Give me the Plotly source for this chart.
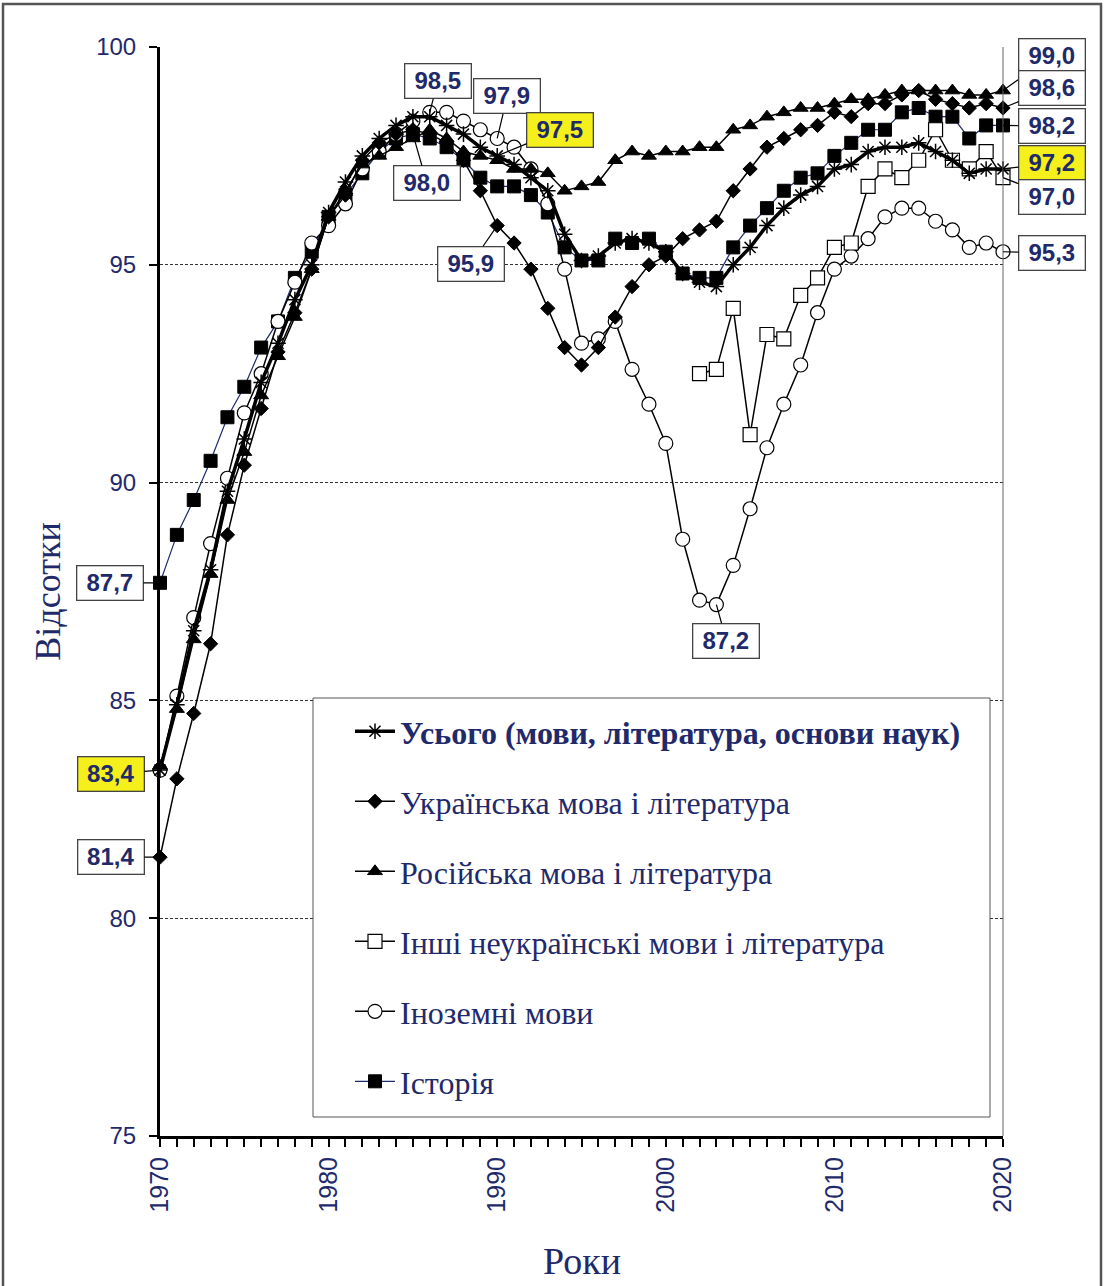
import plotly.graph_objects as go

years = list(range(1970, 2021))

total = [83.4, 84.9, 86.6, 88.0, 89.8, 91.0, 92.3, 93.2, 94.2, 95.0,
         96.2, 96.9, 97.5, 97.9, 98.2, 98.4, 98.4, 98.2, 98.0, 97.7,
         97.5, 97.3, 97.0, 96.7, 95.7, 95.1, 95.2, 95.5, 95.6, 95.5,
         95.3, 94.8, 94.6, 94.5, 95.0, 95.4, 95.9, 96.3, 96.6, 96.8,
         97.2, 97.3, 97.6, 97.7, 97.7, 97.8, 97.6, 97.4, 97.1, 97.2, 97.2]

ukrainian = [81.4, 83.2, 84.7, 86.3, 88.8, 90.4, 91.7, 93.0, 93.9, 94.9,
             96.1, 96.6, 97.4, 97.8, 98.0, 98.1, 98.0, 97.8, 97.4, 96.7,
             95.9, 95.5, 94.9, 94.0, 93.1, 92.7, 93.1, 93.8, 94.5, 95.0,
             95.2, 95.6, 95.8, 96.0, 96.7, 97.2, 97.7, 97.9, 98.1, 98.2,
             98.5, 98.4, 98.7, 98.7, 98.9, 99.0, 98.8, 98.7, 98.6, 98.7, 98.6]

russian = [83.5, 84.8, 86.4, 87.9, 89.6, 90.7, 92.0, 92.9, 93.8, 94.9,
           96.1, 96.7, 97.3, 97.5, 97.7, 97.9, 98.1, 97.9, 97.6, 97.5,
           97.4, 97.2, 97.2, 97.1, 96.7, 96.8, 96.9, 97.4, 97.6, 97.5,
           97.6, 97.6, 97.7, 97.7, 98.1, 98.2, 98.4, 98.5, 98.6, 98.6,
           98.7, 98.8, 98.8, 98.9, 99.0, 99.0, 99.0, 99.0, 98.9, 98.9, 99.0]

other_years = list(range(2002, 2021))
other = [92.5, 92.6, 94.0, 91.1, 93.4, 93.3, 94.3, 94.7, 95.4, 95.5,
         96.8, 97.2, 97.0, 97.4, 98.1, 97.4, 97.2, 97.6, 97.0]

foreign = [83.4, 85.1, 86.9, 88.6, 90.1, 91.6, 92.5, 93.7, 94.6, 95.5,
           95.9, 96.4, 97.2, 97.6, 98.0, 98.3, 98.5, 98.5, 98.3, 98.1,
           97.9, 97.7, 97.2, 96.4, 94.9, 93.2, 93.3, 93.7, 92.6, 91.8,
           90.9, 88.7, 87.3, 87.2, 88.1, 89.4, 90.8, 91.8, 92.7, 93.9,
           94.9, 95.2, 95.6, 96.1, 96.3, 96.3, 96.0, 95.8, 95.4, 95.5, 95.3]

history = [87.7, 88.8, 89.6, 90.5, 91.5, 92.2, 93.1, 93.7, 94.7, 95.3,
           96.1, 96.6, 97.1, 97.6, 97.9, 98.0, 97.9, 97.7, 97.4, 97.0,
           96.8, 96.8, 96.6, 96.2, 95.4, 95.1, 95.1, 95.6, 95.5, 95.6,
           95.3, 94.8, 94.7, 94.7, 95.4, 95.9, 96.3, 96.7, 97.0, 97.1,
           97.5, 97.8, 98.1, 98.1, 98.5, 98.6, 98.4, 98.4, 97.9, 98.2, 98.2]

names = ["<b>Усього (мови, література, основи наук)</b>",
         "Українська мова і література",
         "Російська мова і література",
         "Інші неукраїнські мови і література",
         "Іноземні мови",
         "Історія"]

x_tick_vals = years
x_tick_text = [str(y) if y % 10 == 0 else "" for y in years]
y_tick_vals = [75, 80, 85, 90, 95, 100]

NAVY = "#1f2a6b"
YELLOW = "#f5ef1b"
SERIF = "Liberation Serif, Times New Roman, serif"
SANS = "Liberation Sans, Arial, sans-serif"

fig = go.Figure()

# draw order: history, foreign, other, russian, ukrainian, total
fig.add_trace(go.Scatter(x=years, y=history, name=names[5], mode="lines+markers",
                         line=dict(color=NAVY, width=1.2),
                         marker=dict(symbol="square", size=13, color="black",
                                     line=dict(color="black", width=1)),
                         legendrank=6, legendgroup="g6", cliponaxis=False))
fig.add_trace(go.Scatter(x=years, y=foreign, name=names[4], mode="lines+markers",
                         line=dict(color="black", width=1.5),
                         marker=dict(symbol="circle", size=14, color="white",
                                     line=dict(color="black", width=1.2)),
                         legendrank=5, legendgroup="g5", cliponaxis=False))
fig.add_trace(go.Scatter(x=other_years, y=other, name=names[3], mode="lines+markers",
                         line=dict(color="black", width=1.5),
                         marker=dict(symbol="square", size=14, color="white",
                                     line=dict(color="black", width=1.2)),
                         legendrank=4, legendgroup="g4", cliponaxis=False))
fig.add_trace(go.Scatter(x=years, y=russian, name=names[2], mode="lines+markers",
                         line=dict(color="black", width=1.5),
                         marker=dict(symbol="triangle-up", size=13, color="black",
                                     line=dict(color="black", width=1)),
                         legendrank=3, legendgroup="g3", cliponaxis=False))
fig.add_trace(go.Scatter(x=years, y=ukrainian, name=names[1], mode="lines+markers",
                         line=dict(color="black", width=1.5),
                         marker=dict(symbol="diamond", size=11, color="black",
                                     line=dict(color="black", width=1)),
                         legendrank=2, legendgroup="g2", cliponaxis=False))
fig.add_trace(go.Scatter(x=years, y=total, name=names[0], mode="lines+markers",
                         line=dict(color="black", width=3.5),
                         marker=dict(symbol="asterisk-open", size=13, color="black",
                                     line=dict(color="black", width=1.5)),
                         legendrank=1, legendgroup="g1", cliponaxis=False))

# value labels: (series, year, ax, ay, yellow)
series_map = {"total": (years, total), "ukr": (years, ukrainian), "rus": (years, russian),
              "other": (other_years, other), "foreign": (years, foreign), "hist": (years, history)}
labels = [
    ("foreign", 1986, 8, -31, False),
    ("foreign", 1990, 10, -42, False),
    ("total", 1990, 63, -26, True),
    ("hist", 1985, 14, 49, False),
    ("ukr", 1990, -26, 38, False),
    ("foreign", 2003, 10, 36, False),
    ("hist", 1970, -50, 0, False),
    ("total", 1970, -49, 4, True),
    ("ukr", 1970, -49, 0, False),
    ("rus", 2020, 49, -35, False),
    ("ukr", 2020, 49, -20, False),
    ("hist", 2020, 49, 1, False),
    ("total", 2020, 49, -6, True),
    ("other", 2020, 49, 19, False),
    ("foreign", 2020, 49, 1, False),
]
for key, yr, ax, ay, yel in labels:
    xs, ys = series_map[key]
    v = ys[xs.index(yr)]
    fig.add_annotation(x=yr, y=v, ax=ax, ay=ay, axref="pixel", ayref="pixel",
                       text="<b>" + f"{v:.1f}".replace(".", ",") + "</b>",
                       showarrow=True, arrowhead=0, arrowwidth=1.2, arrowcolor="black",
                       font=dict(family=SANS, size=24, color=NAVY),
                       bgcolor=YELLOW if yel else "white",
                       bordercolor="#444", borderwidth=1.3,
                       width=63, height=31, borderpad=1)

W, H = 1104, 1286
L, R, T, B = 160, 101, 47, 150
pw, ph = W - L - R, H - T - B


def px(xp):
    return (xp - L) / pw


def py(yp):
    return (H - B - yp) / ph


# x-axis title as annotation for exact placement
fig.add_annotation(x=0.5, y=py(1261), xref="paper", yref="paper", showarrow=False,
                   text="Роки", xanchor="center", yanchor="middle",
                   font=dict(family=SERIF, size=38, color=NAVY))

shapes = [
    dict(type="rect", xref="paper", yref="paper", x0=px(313), x1=px(990), y0=py(1117), y1=py(698),
         fillcolor="white", line=dict(color="#555", width=1), layer="above"),
    dict(type="line", xref="paper", yref="paper", x0=1, x1=1, y0=0, y1=1,
         line=dict(color="#666", width=1)),
    dict(type="rect", xref="paper", yref="paper", x0=px(3), x1=px(1101), y0=py(1295), y1=py(4),
         line=dict(color="#555", width=2.5), fillcolor="rgba(0,0,0,0)"),
]

fig.update_layout(
    width=W, height=H,
    margin=dict(l=L, r=R, t=T, b=B, autoexpand=False),
    paper_bgcolor="white", plot_bgcolor="white",
    shapes=shapes,
    showlegend=True,
    legend=dict(x=px(350), y=py(704), xanchor="left", yanchor="top",
                bgcolor="rgba(0,0,0,0)", borderwidth=0,
                font=dict(family=SERIF, size=32, color=NAVY),
                tracegroupgap=25.4, traceorder="grouped", itemwidth=40),
    xaxis=dict(range=[1970, 2020], tickmode="array", tickvals=x_tick_vals, ticktext=x_tick_text,
               tickangle=-90, ticks="outside", ticklen=8, tickwidth=2, tickcolor="black",
               showline=True, linecolor="black", linewidth=3, showgrid=False, zeroline=False,
               tickfont=dict(family=SANS, size=25, color=NAVY), automargin=False),
    yaxis=dict(range=[75, 100], tickmode="array", tickvals=y_tick_vals,
               ticks="outside", ticklen=8, tickwidth=2, tickcolor="black",
               showline=True, linecolor="black", linewidth=3, automargin=False,
               showgrid=True, gridcolor="#333", gridwidth=1, griddash="3px,2px", zeroline=False,
               tickfont=dict(family=SANS, size=24, color=NAVY), ticklabelstandoff=8,
               title=dict(text="Відсотки", font=dict(family=SERIF, size=36, color=NAVY), standoff=25)),
)

fig.write_html("out.html", config={"displayModeBar": False},
               post_script="document.body.style.margin='0';document.body.style.overflow='hidden';")
